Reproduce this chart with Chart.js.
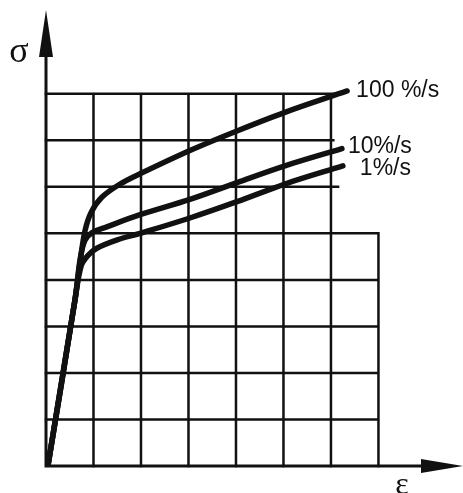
<!DOCTYPE html>
<html>
<head>
<meta charset="utf-8">
<script src="https://cdn.jsdelivr.net/npm/chart.js@4/dist/chart.umd.min.js"></script>
<style>
  html, body { margin: 0; padding: 0; background: #fff; }
  #wrap { width: 463px; height: 493px; position: relative; }
</style>
</head>
<body>
<div id="wrap"><canvas id="c"></canvas></div>
<script>
// strain (grid units) and stress (grid units) for each strain rate
const strain100 = [0.04, 0.61, 0.72, 0.82, 0.95, 1.18, 1.56, 1.98, 3.03, 4.02, 5.03, 6.34];
const stress100 = [0.0, 3.57, 4.40, 5.05, 5.45, 5.78, 6.06, 6.28, 6.78, 7.20, 7.60, 8.06];

const strain10 = [0.04, 0.61, 0.72, 0.82, 0.98, 1.28, 1.98, 3.03, 4.02, 5.03, 6.23];
const stress10 = [0.0, 3.57, 4.45, 4.85, 5.02, 5.14, 5.40, 5.73, 6.09, 6.45, 6.82];

const strain1 = [0.04, 0.61, 0.74, 0.88, 1.07, 1.50, 1.98, 3.03, 4.02, 5.03, 6.25];
const stress1 = [0.0, 3.57, 4.30, 4.52, 4.68, 4.86, 5.00, 5.33, 5.68, 6.06, 6.45];

const rateLabels = ['100 %/s', '10%/s', '1%/s'];

// paper grid: horizontal lines (at stress value, ending at strain) and vertical lines
const gridRows = [
  {at: 1, to: 7}, {at: 2, to: 7}, {at: 3, to: 7}, {at: 4, to: 7}, {at: 5, to: 7},
  {at: 6, to: 6.15}, {at: 7, to: 6.05}, {at: 8, to: 6.2},
];
const gridCols = [
  {at: 1, to: 8}, {at: 2, to: 8}, {at: 3, to: 8}, {at: 4, to: 8},
  {at: 5, to: 8}, {at: 6, to: 8}, {at: 7, to: 5},
];

const X_MAX = 8.78;
const Y_MAX = 9.8;

function toPoints(xs, ys) {
  return xs.map((x, i) => ({x: x, y: ys[i]}));
}

const INK = '#111';

const paperGrid = {
  id: 'paperGrid',
  beforeDatasetsDraw(chart) {
    const {ctx, scales: {x, y}} = chart;
    ctx.save();
    ctx.strokeStyle = INK;
    ctx.lineWidth = 2.5;
    ctx.lineCap = 'square';
    ctx.beginPath();
    gridRows.forEach((r) => {
      ctx.moveTo(x.getPixelForValue(0), y.getPixelForValue(r.at));
      ctx.lineTo(x.getPixelForValue(r.to), y.getPixelForValue(r.at));
    });
    gridCols.forEach((c) => {
      ctx.moveTo(x.getPixelForValue(c.at), y.getPixelForValue(0));
      ctx.lineTo(x.getPixelForValue(c.at), y.getPixelForValue(c.to));
    });
    ctx.stroke();

    // axes with arrow heads
    const x0 = x.getPixelForValue(0), y0 = y.getPixelForValue(0);
    const xEnd = x.getPixelForValue(X_MAX), yEnd = y.getPixelForValue(Y_MAX);
    ctx.lineWidth = 3;
    ctx.beginPath();
    ctx.moveTo(x0, y0);
    ctx.lineTo(xEnd - 30, y0);
    ctx.moveTo(x0, y0);
    ctx.lineTo(x0, yEnd + 30);
    ctx.stroke();
    ctx.fillStyle = INK;
    ctx.beginPath();
    ctx.moveTo(xEnd, y0);
    ctx.lineTo(xEnd - 42, y0 - 7);
    ctx.lineTo(xEnd - 42, y0 + 7);
    ctx.closePath();
    ctx.moveTo(x0, yEnd);
    ctx.lineTo(x0 - 7, yEnd + 47);
    ctx.lineTo(x0 + 7, yEnd + 47);
    ctx.closePath();
    ctx.fill();

    // axis symbols
    ctx.font = '36px "Liberation Serif", "DejaVu Serif", serif';
    ctx.textAlign = 'center';
    ctx.textBaseline = 'alphabetic';
    ctx.fillText('σ', x0 - 27, yEnd + 52);
    ctx.font = '32px "Liberation Serif", "DejaVu Serif", serif';
    ctx.fillText('ε', xEnd - 61, y0 + 28);
    ctx.restore();
  },
  afterDatasetsDraw(chart, args, opts) {
    const {ctx} = chart;
    ctx.save();
    ctx.fillStyle = INK;
    ctx.font = '23px "Liberation Sans", Arial, sans-serif';
    ctx.textAlign = 'left';
    ctx.textBaseline = 'alphabetic';
    chart.data.datasets.forEach((ds, i) => {
      const meta = chart.getDatasetMeta(i);
      const last = meta.data[meta.data.length - 1];
      const off = opts.offsets[i];
      ctx.fillText(ds.label, last.x + off[0], last.y + off[1]);
    });
    ctx.restore();
  },
};

const curve = (label, xs, ys) => ({
  label: label,
  data: toPoints(xs, ys),
  borderColor: INK,
  borderWidth: 5.5,
  borderCapStyle: 'round',
  borderJoinStyle: 'round',
  pointRadius: 0,
  fill: false,
  tension: 0.35,
});

new Chart(document.getElementById('c'), {
  type: 'line',
  data: {
    datasets: [
      curve(rateLabels[0], strain100, stress100),
      curve(rateLabels[1], strain10, stress10),
      curve(rateLabels[2], strain1, stress1),
    ],
  },
  options: {
    responsive: true,
    maintainAspectRatio: false,
    animation: false,
    layout: {padding: {left: 46, right: 0, top: 10, bottom: 27}},
    scales: {
      x: {type: 'linear', min: 0, max: X_MAX, display: false},
      y: {type: 'linear', min: 0, max: Y_MAX, display: false},
    },
    plugins: {
      legend: {display: false},
      tooltip: {enabled: false},
      paperGrid: {offsets: [[9, 6], [6, 4], [17, 9]]},
    },
  },
  plugins: [paperGrid],
});
</script>
</body>
</html>
